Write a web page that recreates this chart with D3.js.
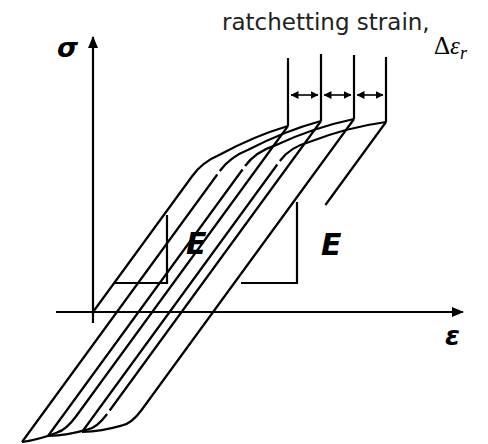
<!DOCTYPE html>
<html>
<head>
<meta charset="utf-8">
<script src="https://cdn.jsdelivr.net/npm/d3@7"></script>
<style>
  html, body { margin: 0; padding: 0; background: #fff; }
  svg { display: block; }
</style>
</head>
<body>
<svg id="chart" width="488" height="444"></svg>
<script>
// Schematic stress–strain loops showing ratchetting (strain units, stress units)
const origin = [0, 0];
// tension peaks of successive cycles
const peaks = [[19.5, 18.6], [22.8, 19.1], [26.1, 19.3], [29.3, 19.0]];
// compression ends of successive cycles
const troughs = [[-7.1, -13.0], [-4.5, -12.4], [-1.1, -12.0]];
// stress at the corner where loading leaves the elastic line
const upCornerStress = [15.0, 15.5, 16.0, 16.5];
// stress at the corner where unloading leaves the elastic line
const downCornerStress = [-11.8, -11.6, -11.2];
// whether the pen lifted between the straight run and the bend
const upBreak = [false, true, true, true];
const downBreak = [false, true, false];
// end of the last, partly drawn unloading line
const lastUnloadStress = 10.7;
// elastic slope written as strain per unit stress
const compliance = 0.73;
// slope triangles: [corner on the line, right corner, top corner]
const triangles = [
  [[2.1, 2.9], [7.4, 2.9], [7.4, 9.7]],
  [[14.8, 2.9], [20.4, 2.9], [20.4, 11.0]]
];
// ratchetting markers
const markerTop = [25.4, 25.8, 25.7, 25.5];
const arrowStress = 21.7;
const labels = { top: "ratchetting strain,", sigma: "σ", eps: "ε", E: "E" };

const svg = d3.select("#chart");
const x = d3.scaleLinear().domain([-3.7, 37]).range([56, 463]);
const y = d3.scaleLinear().domain([-13.2, 27.5]).range([444, 37]);

const ink = "#000";
const lw = 2.2;

// arrowheads
const defs = svg.append("defs");
defs.append("marker").attr("id", "axisHead")
  .attr("viewBox", "0 0 12 10").attr("refX", 11).attr("refY", 5)
  .attr("markerWidth", 12).attr("markerHeight", 10).attr("markerUnits", "userSpaceOnUse")
  .attr("orient", "auto")
  .append("path").attr("d", "M0,0 L12,5 L0,10 Z").attr("fill", ink);
defs.append("marker").attr("id", "smallHead")
  .attr("viewBox", "0 0 8 8").attr("refX", 7.5).attr("refY", 4)
  .attr("markerWidth", 8).attr("markerHeight", 8).attr("markerUnits", "userSpaceOnUse")
  .attr("orient", "auto-start-reverse")
  .append("path").attr("d", "M0,0 L8,4 L0,8 Z").attr("fill", ink);

// axes
svg.append("line")
  .attr("x1", x(0)).attr("y1", y(-1.1)).attr("x2", x(0)).attr("y2", y(27.5))
  .attr("stroke", ink).attr("stroke-width", lw).attr("marker-end", "url(#axisHead)");
svg.append("line")
  .attr("x1", x(-3.7)).attr("y1", y(0)).attr("x2", x(37)).attr("y2", y(0))
  .attr("stroke", ink).attr("stroke-width", lw).attr("marker-end", "url(#axisHead)");

// a branch: straight elastic run, rounded corner, then a gently flattening tail
function onElastic(p, s) { return [p[0] + compliance * (s - p[1]), s]; }
function lerp(a, b, t) { return [a[0] + (b[0] - a[0]) * t, a[1] + (b[1] - a[1]) * t]; }

function branchPath(start, cornerS, end, lifted) {
  const c = onElastic(start, cornerS);
  const dir = end[1] > start[1] ? 1 : -1;
  const back = 1.4;                          // rounding length in stress units
  const before = [c[0] - dir * compliance * back, c[1] - dir * back];
  const runEnd = lifted
    ? [before[0] - dir * compliance * 0.35, before[1] - dir * 0.35]
    : before;
  const after = lerp(c, end, 0.2);
  const mid = lerp(after, end, 0.5);
  const ctrl = [mid[0], mid[1] + dir * 0.05 * Math.abs(end[0] - c[0])];
  const p = d3.path();
  p.moveTo(x(start[0]), y(start[1]));
  p.lineTo(x(runEnd[0]), y(runEnd[1]));
  p.moveTo(x(before[0]), y(before[1]));
  p.quadraticCurveTo(x(c[0]), y(c[1]), x(after[0]), y(after[1]));
  p.quadraticCurveTo(x(ctrl[0]), y(ctrl[1]), x(end[0]), y(end[1]));
  return p.toString();
}

const branches = [];
const starts = [origin].concat(troughs);
peaks.forEach((pk, i) => {
  branches.push(branchPath(starts[i], upCornerStress[i], pk, upBreak[i]));
  if (i < troughs.length) branches.push(branchPath(pk, downCornerStress[i], troughs[i], downBreak[i]));
});

const loops = svg.append("g");
loops.selectAll("path.branch").data(branches).join("path")
  .attr("class", "branch").attr("d", d => d)
  .attr("fill", "none").attr("stroke", ink).attr("stroke-width", lw)
  .attr("stroke-linejoin", "round");

// last unloading line (elastic part only)
const lastPk = peaks[peaks.length - 1];
const lastEnd = onElastic(lastPk, lastUnloadStress);
loops.append("line")
  .attr("x1", x(lastPk[0])).attr("y1", y(lastPk[1]))
  .attr("x2", x(lastEnd[0])).attr("y2", y(lastEnd[1]))
  .attr("stroke", ink).attr("stroke-width", lw);

// slope triangles
const tri = d3.line().x(d => x(d[0])).y(d => y(d[1]));
svg.selectAll("path.tri").data(triangles).join("path")
  .attr("class", "tri").attr("d", tri)
  .attr("fill", "none").attr("stroke", ink).attr("stroke-width", lw)
  .attr("stroke-linejoin", "miter");

// ratchetting markers
peaks.forEach((pk, i) => {
  svg.append("line")
    .attr("x1", x(pk[0])).attr("y1", y(pk[1]))
    .attr("x2", x(pk[0])).attr("y2", y(markerTop[i]))
    .attr("stroke", ink).attr("stroke-width", lw);
});
d3.pairs(peaks).forEach(([a, b]) => {
  svg.append("line")
    .attr("x1", x(a[0]) + 3).attr("y1", y(arrowStress))
    .attr("x2", x(b[0]) - 3).attr("y2", y(arrowStress))
    .attr("stroke", ink).attr("stroke-width", 1.6)
    .attr("marker-start", "url(#smallHead)").attr("marker-end", "url(#smallHead)");
});

// text
svg.append("text").attr("x", 222).attr("y", 30)
  .attr("font-family", "DejaVu Sans, Verdana, sans-serif").attr("font-size", 23)
  .attr("fill", "#222").text(labels.top);

const dr = svg.append("text").attr("x", 434).attr("y", 54)
  .attr("font-family", "Liberation Serif, Times New Roman, serif").attr("font-size", 25);
dr.append("tspan").text("Δ");
dr.append("tspan").attr("font-style", "italic").text("ε");
dr.append("tspan").attr("font-style", "italic").attr("font-size", 18).attr("dy", 5).text("r");

const bi = sel => sel.attr("font-family", "DejaVu Sans, Verdana, sans-serif")
  .attr("font-weight", "bold").attr("font-style", "italic").attr("fill", ink);
bi(svg.append("text").attr("x", 57).attr("y", 57).attr("font-size", 27).text(labels.sigma));
bi(svg.append("text").attr("x", 445).attr("y", 345).attr("font-size", 27).text(labels.eps));
bi(svg.insert("text", "g").attr("x", 186).attr("y", 254).attr("font-size", 30).text(labels.E));
bi(svg.append("text").attr("x", 321).attr("y", 255).attr("font-size", 30).text(labels.E));
</script>
</body>
</html>
